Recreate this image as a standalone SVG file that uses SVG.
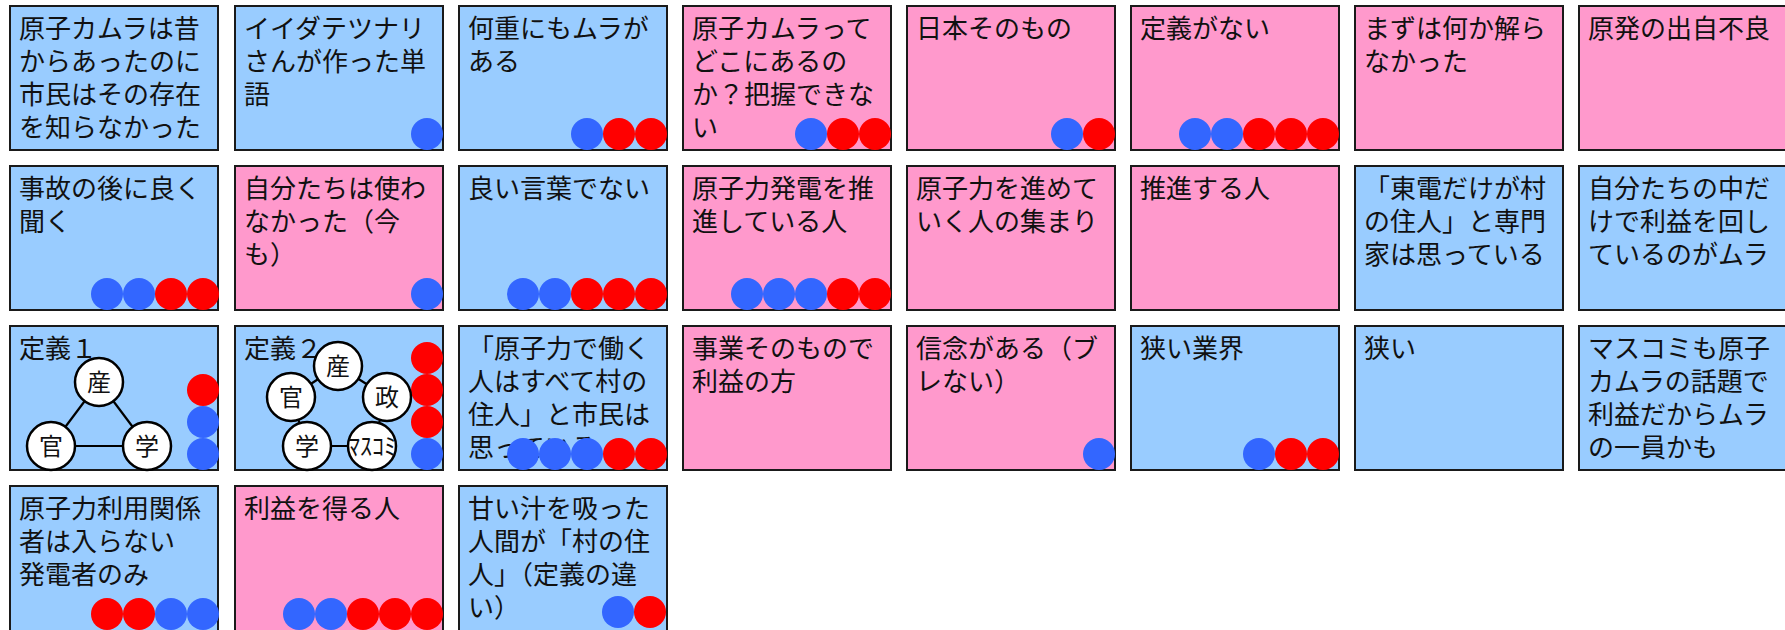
<svg xmlns="http://www.w3.org/2000/svg" width="1785" height="630" viewBox="0 0 1785 630">
<style>
.blue{fill:#99CCFF;stroke:#1a1a1a;stroke-width:2}
.pink{fill:#FF99CC;stroke:#1a1a1a;stroke-width:2}
.t{font-family:"Noto Sans CJK JP","Noto Sans CJK SC",sans-serif;font-size:26px;fill:#111}
.b{fill:#3366FF}
.r{fill:#FF0000}
.edge{stroke:#000;stroke-width:2.2;fill:none}
.mn{fill:#fff;stroke:#000;stroke-width:2.5}
.mt{font-family:"Noto Sans CJK JP","Noto Sans CJK SC",sans-serif;font-size:24px;fill:#111;text-anchor:middle}
</style>
<rect width="1785" height="630" fill="#fff"/>

<!-- Row 1 -->
<g id="n1"><rect class="blue" x="10" y="6" width="208" height="144"/>
<text class="t" x="19" y="38"><tspan x="19">原子カムラは昔</tspan><tspan x="19" dy="33">からあったのに</tspan><tspan x="19" dy="33">市民はその存在</tspan><tspan x="19" dy="33">を知らなかった</tspan></text></g>
<g id="n2"><rect class="blue" x="235" y="6" width="208" height="144"/>
<text class="t" x="244" y="38"><tspan x="244">イイダテツナリ</tspan><tspan x="244" dy="33">さんが作った単</tspan><tspan x="244" dy="33">語</tspan></text>
<circle class="b" cx="427" cy="134" r="16"/></g>
<g id="n3"><rect class="blue" x="459" y="6" width="208" height="144"/>
<text class="t" x="468" y="38"><tspan x="468">何重にもムラが</tspan><tspan x="468" dy="33">ある</tspan></text>
<circle class="b" cx="587" cy="134" r="16"/><circle class="r" cx="619" cy="134" r="16"/><circle class="r" cx="651" cy="134" r="16"/></g>
<g id="n4"><rect class="pink" x="683" y="6" width="208" height="144"/>
<text class="t" x="692" y="38"><tspan x="692">原子カムラって</tspan><tspan x="692" dy="33">どこにあるの</tspan><tspan x="692" dy="33">か？把握できな</tspan><tspan x="692" dy="33">い</tspan></text>
<circle class="b" cx="811" cy="134" r="16"/><circle class="r" cx="843" cy="134" r="16"/><circle class="r" cx="875" cy="134" r="16"/></g>
<g id="n5"><rect class="pink" x="907" y="6" width="208" height="144"/>
<text class="t" x="916" y="38">日本そのもの</text>
<circle class="b" cx="1067" cy="134" r="16"/><circle class="r" cx="1099" cy="134" r="16"/></g>
<g id="n6"><rect class="pink" x="1131" y="6" width="208" height="144"/>
<text class="t" x="1140" y="38">定義がない</text>
<circle class="b" cx="1195" cy="134" r="16"/><circle class="b" cx="1227" cy="134" r="16"/><circle class="r" cx="1259" cy="134" r="16"/><circle class="r" cx="1291" cy="134" r="16"/><circle class="r" cx="1323" cy="134" r="16"/></g>
<g id="n7"><rect class="pink" x="1355" y="6" width="208" height="144"/>
<text class="t" x="1364" y="38"><tspan x="1364">まずは何か解ら</tspan><tspan x="1364" dy="33">なかった</tspan></text></g>
<g id="n8"><rect class="pink" x="1579" y="6" width="208" height="144"/>
<text class="t" x="1588" y="38">原発の出自不良</text></g>

<!-- Row 2 -->
<g id="n9"><rect class="blue" x="10" y="166" width="208" height="144"/>
<text class="t" x="19" y="198"><tspan x="19">事故の後に良く</tspan><tspan x="19" dy="33">聞く</tspan></text>
<circle class="b" cx="107" cy="294" r="16"/><circle class="b" cx="139" cy="294" r="16"/><circle class="r" cx="171" cy="294" r="16"/><circle class="r" cx="203" cy="294" r="16"/></g>
<g id="n10"><rect class="pink" x="235" y="166" width="208" height="144"/>
<text class="t" x="244" y="198"><tspan x="244">自分たちは使わ</tspan><tspan x="244" dy="33">なかった（今</tspan><tspan x="244" dy="33">も）</tspan></text>
<circle class="b" cx="427" cy="294" r="16"/></g>
<g id="n11"><rect class="blue" x="459" y="166" width="208" height="144"/>
<text class="t" x="468" y="198">良い言葉でない</text>
<circle class="b" cx="523" cy="294" r="16"/><circle class="b" cx="555" cy="294" r="16"/><circle class="r" cx="587" cy="294" r="16"/><circle class="r" cx="619" cy="294" r="16"/><circle class="r" cx="651" cy="294" r="16"/></g>
<g id="n12"><rect class="pink" x="683" y="166" width="208" height="144"/>
<text class="t" x="692" y="198"><tspan x="692">原子力発電を推</tspan><tspan x="692" dy="33">進している人</tspan></text>
<circle class="b" cx="747" cy="294" r="16"/><circle class="b" cx="779" cy="294" r="16"/><circle class="b" cx="811" cy="294" r="16"/><circle class="r" cx="843" cy="294" r="16"/><circle class="r" cx="875" cy="294" r="16"/></g>
<g id="n13"><rect class="pink" x="907" y="166" width="208" height="144"/>
<text class="t" x="916" y="198"><tspan x="916">原子力を進めて</tspan><tspan x="916" dy="33">いく人の集まり</tspan></text></g>
<g id="n14"><rect class="pink" x="1131" y="166" width="208" height="144"/>
<text class="t" x="1140" y="198">推進する人</text></g>
<g id="n15"><rect class="blue" x="1355" y="166" width="208" height="144"/>
<text class="t" x="1364" y="198"><tspan x="1364">「東電だけが村</tspan><tspan x="1364" dy="33">の住人」と専門</tspan><tspan x="1364" dy="33">家は思っている</tspan></text></g>
<g id="n16"><rect class="blue" x="1579" y="166" width="208" height="144"/>
<text class="t" x="1588" y="198"><tspan x="1588">自分たちの中だ</tspan><tspan x="1588" dy="33">けで利益を回し</tspan><tspan x="1588" dy="33">ているのがムラ</tspan></text></g>

<!-- Row 3 -->
<g id="n17"><rect class="blue" x="10" y="326" width="208" height="144"/>
<text class="t" x="19" y="358">定義１</text>
<circle class="r" cx="203" cy="390" r="16"/><circle class="b" cx="203" cy="422" r="16"/><circle class="b" cx="203" cy="454" r="16"/></g>
<g id="n18"><rect class="blue" x="235" y="326" width="208" height="144"/>
<text class="t" x="244" y="358">定義２</text>
<circle class="r" cx="427" cy="358" r="16"/><circle class="r" cx="427" cy="390" r="16"/><circle class="r" cx="427" cy="422" r="16"/><circle class="b" cx="427" cy="454" r="16"/></g>
<g id="n19"><rect class="blue" x="459" y="326" width="208" height="144"/>
<text class="t" x="468" y="358"><tspan x="468">「原子力で働く</tspan><tspan x="468" dy="33">人はすべて村の</tspan><tspan x="468" dy="33">住人」と市民は</tspan><tspan x="468" dy="33">思っている</tspan></text>
<circle class="b" cx="523" cy="454" r="16"/><circle class="b" cx="555" cy="454" r="16"/><circle class="b" cx="587" cy="454" r="16"/><circle class="r" cx="619" cy="454" r="16"/><circle class="r" cx="651" cy="454" r="16"/></g>
<g id="n20"><rect class="pink" x="683" y="326" width="208" height="144"/>
<text class="t" x="692" y="358"><tspan x="692">事業そのもので</tspan><tspan x="692" dy="33">利益の方</tspan></text></g>
<g id="n21"><rect class="pink" x="907" y="326" width="208" height="144"/>
<text class="t" x="916" y="358"><tspan x="916">信念がある（ブ</tspan><tspan x="916" dy="33">レない）</tspan></text>
<circle class="b" cx="1099" cy="454" r="16"/></g>
<g id="n22"><rect class="blue" x="1131" y="326" width="208" height="144"/>
<text class="t" x="1140" y="358">狭い業界</text>
<circle class="b" cx="1259" cy="454" r="16"/><circle class="r" cx="1291" cy="454" r="16"/><circle class="r" cx="1323" cy="454" r="16"/></g>
<g id="n23"><rect class="blue" x="1355" y="326" width="208" height="144"/>
<text class="t" x="1364" y="358">狭い</text></g>
<g id="n24"><rect class="blue" x="1579" y="326" width="208" height="144"/>
<text class="t" x="1588" y="358"><tspan x="1588">マスコミも原子</tspan><tspan x="1588" dy="33">カムラの話題で</tspan><tspan x="1588" dy="33">利益だからムラ</tspan><tspan x="1588" dy="33">の一員かも</tspan></text></g>

<!-- Row 4 -->
<g id="n25"><rect class="blue" x="10" y="486" width="208" height="145"/>
<text class="t" x="19" y="518"><tspan x="19">原子力利用関係</tspan><tspan x="19" dy="33">者は入らない</tspan><tspan x="19" dy="33">発電者のみ</tspan></text>
<circle class="r" cx="107" cy="614" r="16"/><circle class="r" cx="139" cy="614" r="16"/><circle class="b" cx="171" cy="614" r="16"/><circle class="b" cx="203" cy="614" r="16"/></g>
<g id="n26"><rect class="pink" x="235" y="486" width="208" height="145"/>
<text class="t" x="244" y="518">利益を得る人</text>
<circle class="b" cx="299" cy="614" r="16"/><circle class="b" cx="331" cy="614" r="16"/><circle class="r" cx="363" cy="614" r="16"/><circle class="r" cx="395" cy="614" r="16"/><circle class="r" cx="427" cy="614" r="16"/></g>
<g id="n27"><rect class="blue" x="459" y="486" width="208" height="145"/>
<text class="t" x="468" y="518"><tspan x="468">甘い汁を吸った</tspan><tspan x="468" dy="33">人間が「村の住</tspan><tspan x="468" dy="33">人」（定義の違</tspan><tspan x="468" dy="33">い）</tspan></text>
<circle class="b" cx="618" cy="612" r="16"/><circle class="r" cx="650" cy="612" r="16"/></g>

<!-- Connectors inside definition diagrams -->
<g id="connectors">
<line class="edge" x1="99" y1="382" x2="51" y2="446"/>
<line class="edge" x1="99" y1="382" x2="147" y2="446"/>
<line class="edge" x1="51" y1="446" x2="147" y2="446"/>
<line class="edge" x1="338" y1="366" x2="291" y2="397"/>
<line class="edge" x1="338" y1="366" x2="387" y2="397"/>
<line class="edge" x1="291" y1="397" x2="307" y2="446"/>
<line class="edge" x1="307" y1="446" x2="372" y2="446"/>
<line class="edge" x1="387" y1="397" x2="372" y2="446"/>
</g>

<!-- Mini nodes of definition 1 -->
<g id="d1-san"><circle class="mn" cx="99" cy="382" r="24"/><text class="mt" x="99" y="391">産</text></g>
<g id="d1-kan"><circle class="mn" cx="51" cy="446" r="24"/><text class="mt" x="51" y="455">官</text></g>
<g id="d1-gaku"><circle class="mn" cx="147" cy="446" r="24"/><text class="mt" x="147" y="455">学</text></g>
<!-- Mini nodes of definition 2 -->
<g id="d2-san"><circle class="mn" cx="338" cy="366" r="24"/><text class="mt" x="338" y="375">産</text></g>
<g id="d2-kan"><circle class="mn" cx="291" cy="397" r="24"/><text class="mt" x="291" y="406">官</text></g>
<g id="d2-sei"><circle class="mn" cx="387" cy="397" r="24"/><text class="mt" x="387" y="406">政</text></g>
<g id="d2-gaku"><circle class="mn" cx="307" cy="446" r="24"/><text class="mt" x="307" y="455">学</text></g>
<g id="d2-masukomi"><circle class="mn" cx="372" cy="446" r="24"/><text class="mt" x="372" y="455">ﾏｽｺﾐ</text></g>
</svg>
